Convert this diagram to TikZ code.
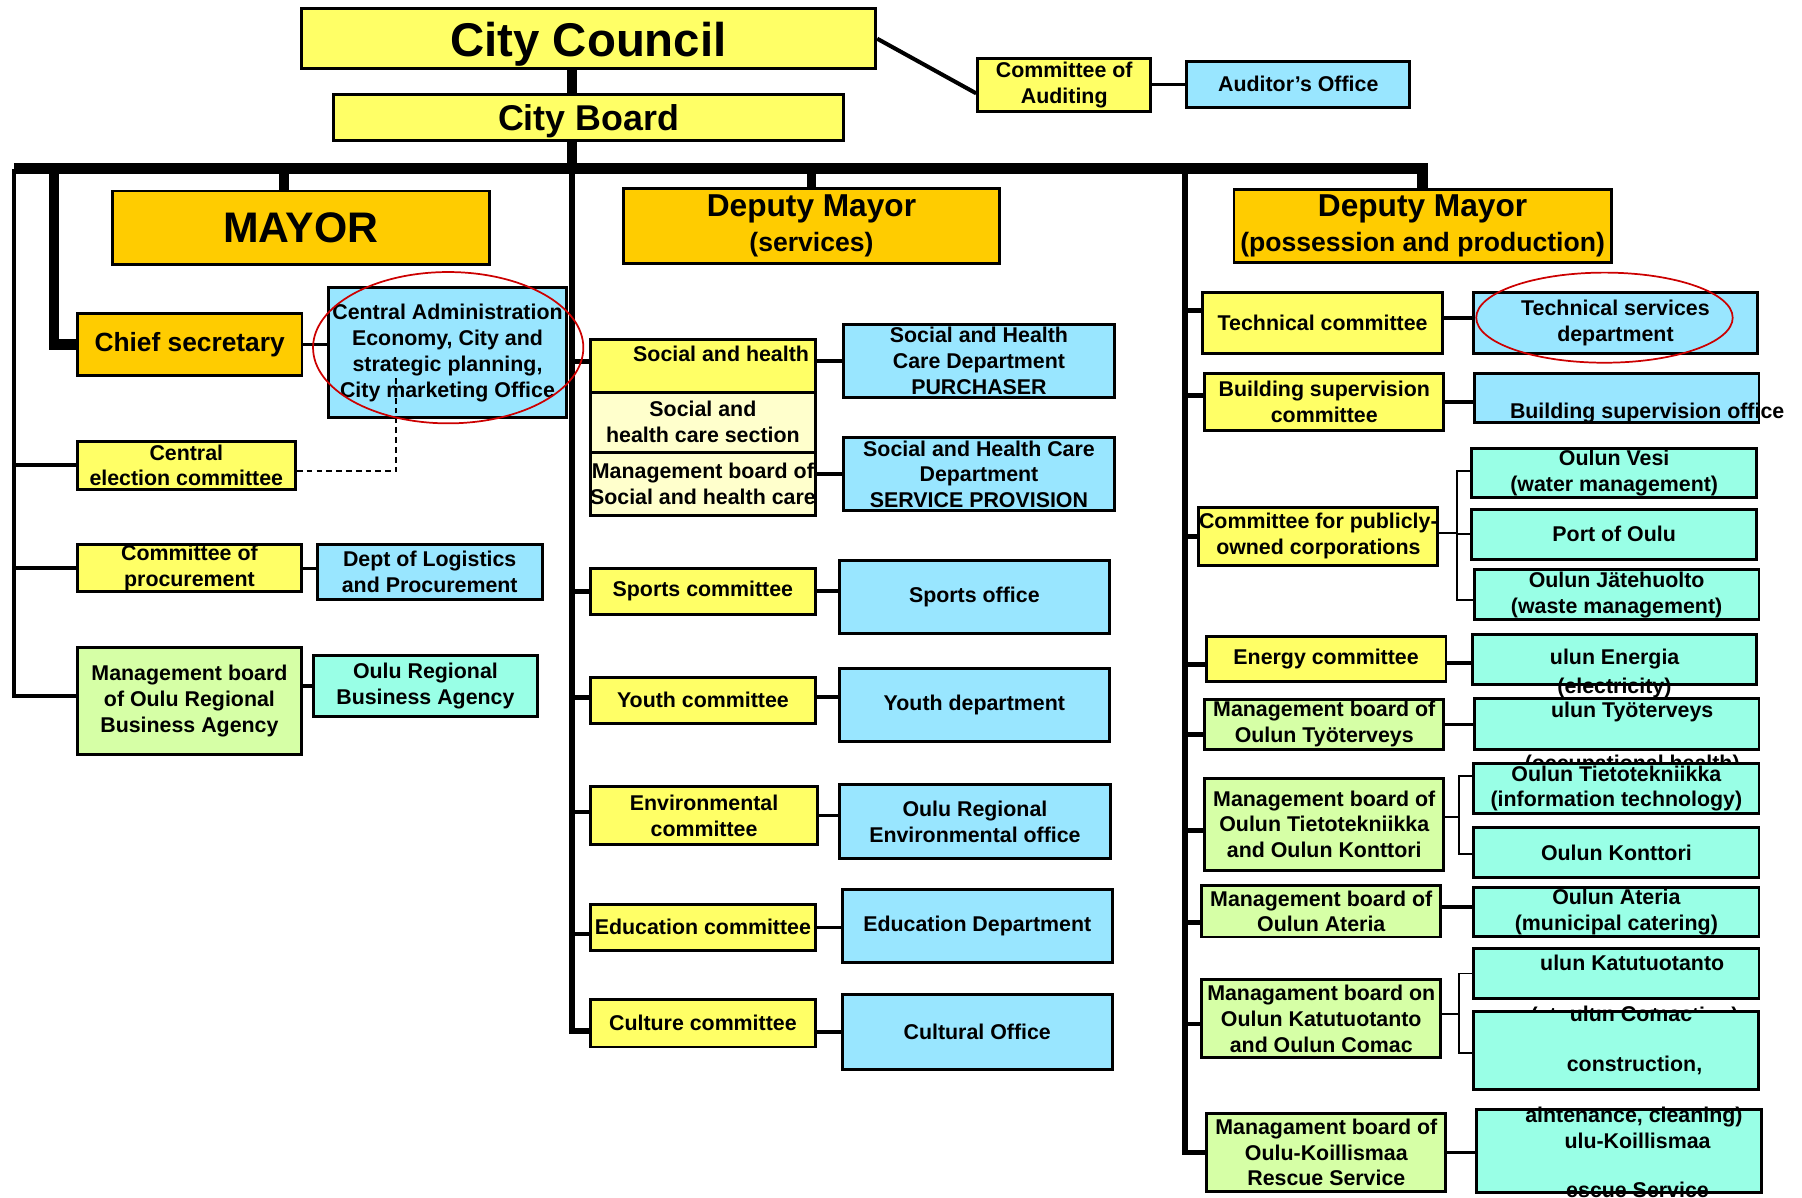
\documentclass[tikz,border=0pt]{standalone}
\usepackage{fontspec}
\setmainfont{Liberation Sans}

\definecolor{cyellow}{HTML}{FFFF66}
\definecolor{corange}{HTML}{FFCC00}
\definecolor{cblue}{HTML}{99E6FF}
\definecolor{cpale}{HTML}{FFFFCC}
\definecolor{cgreen}{HTML}{D6FFA6}
\definecolor{cmint}{HTML}{99FFE6}
\definecolor{cring}{HTML}{CC0000}

\tikzset{
  orgbox/.style={draw=black, line width=2.5pt, inner sep=0pt, align=center,
    font=\bfseries\fontsize{18.5}{22.3}\selectfont},
  sz/.style 2 args={minimum width=#1pt, minimum height=#2pt},
  yellowbox/.style={orgbox, fill=cyellow},
  orangebox/.style={orgbox, fill=corange},
  bluebox/.style={orgbox, fill=cblue},
  palebox/.style={orgbox, fill=cpale},
  greenbox/.style={orgbox, fill=cgreen},
  mintbox/.style={orgbox, fill=cmint},
  txt/.style={inner sep=0pt, align=center, font=\bfseries\fontsize{18.5}{22.3}\selectfont},
  bus/.style={line width=9pt},
  trunk/.style={line width=8.5pt},
  spine/.style={line width=5pt},
  stub/.style={line width=4pt},
  link/.style={line width=3pt},
  fork/.style={line width=1.5pt},
  dashline/.style={line width=1.5pt, dash pattern=on 5pt off 3.5pt},
  ring/.style={draw=cring, line width=1.5pt},
}

\begin{document}
\begin{tikzpicture}[x=1pt, y=-1pt]
  \fill[white] (0,0) rectangle (1560,1036.3);
  \useasboundingbox (0,0) rectangle (1560,1036.3);

  % Council, board, auditing
  \node[yellowbox, sz={497.5}{51.7}, font=\bfseries\fontsize{41}{45}\selectfont,
        text height=39.6pt, text depth=8.6pt] (council) at (509.4,33.5) {City Council};
  \node[yellowbox, sz={441.8}{39.9}, font=\bfseries\fontsize{31}{34}\selectfont,
        text height=29.9pt, text depth=6.5pt] (board) at (509.5,101.5) {City Board};
  \node[yellowbox, sz={150}{45.9}] (audit) at (921.3,73.8) {Committee of\\Auditing};
  \node[bluebox, sz={193.2}{39.5}] (auditor) at (1123.9,73) {Auditor’s Office};

  % Mayor and deputies
  \node[orangebox, sz={326.2}{63.8}, font=\bfseries\fontsize{37}{40}\selectfont] (mayor) at (260.3,197.2) {MAYOR};
  \node[orangebox, sz={325.8}{64.7}, font=\bfseries\fontsize{27.4}{30}\selectfont] (dep1) at (702.5,195.8)
    {Deputy Mayor\\\fontsize{23}{30}\selectfont (services)};
  \node[orangebox, sz={326.5}{63.1}, font=\bfseries\fontsize{27.4}{30}\selectfont] (dep2) at (1231.5,195.8)
    {Deputy Mayor\\\fontsize{23}{30}\selectfont (possession and production)};

  % Mayor's column
  \node[orangebox, sz={194.4}{53.1}, font=\bfseries\fontsize{22.8}{26}\selectfont] (chief) at (164.2,298.2) {Chief secretary};
  \node[bluebox, sz={206.7}{112.5}] (admin) at (387.4,305.5)
    {Central Administration\\Economy, City and\\strategic planning,\\City marketing Office};
  \node[yellowbox, sz={188.9}{41.3}] (election) at (161.3,402.9) {Central\\election committee};
  \node[yellowbox, sz={194.3}{40.8}] (procure) at (164,492) {Committee of\\procurement};
  \node[bluebox, sz={194.6}{47.1}] (logistics) at (372,495.2) {Dept of Logistics\\and Procurement};
  \node[greenbox, sz={194.3}{92.7}] (orbamgmt) at (164,606.9) {Management board\\of Oulu Regional\\Business Agency};
  \node[mintbox, sz={194}{52.9}] (orba) at (368.3,593.7) {Oulu Regional\\Business Agency};
  \coordinate (dashend) at (343,325);

  % Services column
  \node[yellowbox, sz={194.5}{45.5}] (soc) at (608.5,316.75) {};
  \node[txt, anchor=east] (soc-t) at (700.5,306.5) {Social and health};
  \node[palebox, sz={194.5}{52}] (sect) at (608.5,365.5) {Social and\\health care section};
  \node[palebox, sz={194.5}{55}] (smgmt) at (608.5,419) {Management board of\\Social and health care};
  \node[bluebox, sz={234.5}{63.6}] (purch) at (847.5,312.5) {Social and Health\\Care Department\\PURCHASER};
  \node[bluebox, sz={234.5}{63.4}] (prov) at (847.5,410.5) {Social and Health Care\\Department\\SERVICE PROVISION};
  \node[yellowbox, sz={194.5}{39.9}] (sports) at (608.5,511.8) {Sports committee};
  \node[bluebox, sz={233.5}{63.3}] (sportsoff) at (843.5,517) {Sports office};
  \node[yellowbox, sz={194.5}{39.9}] (youth) at (608.5,606.2) {Youth committee};
  \node[bluebox, sz={233.5}{63.5}] (youthdep) at (843.5,610.5) {Youth department};
  \node[yellowbox, sz={196.5}{50.3}] (env) at (609.5,706.1) {Environmental\\committee};
  \node[bluebox, sz={234.5}{64.1}] (envoff) at (844,711.3) {Oulu Regional\\Environmental office};
  \node[yellowbox, sz={194.5}{40}] (edu) at (608.5,802.7) {Education committee};
  \node[bluebox, sz={233.5}{63.6}] (edudep) at (846,801.5) {Education Department};
  \node[yellowbox, sz={194.5}{41.1}] (cult) at (608.5,885.8) {Culture committee};
  \node[bluebox, sz={233.5}{64.5}] (cultoff) at (846,893.5) {Cultural Office};

  % Possession and production column
  \node[yellowbox, sz={207.5}{52.8}] (tech) at (1145,279.4) {Technical committee};
  \node[bluebox, sz={246.5}{52.8}] (tsd) at (1398.5,279.4) {Technical services\\department};
  \node[yellowbox, sz={206.8}{49.7}] (bsc) at (1146.4,347.9) {Building supervision\\committee};
  \node[bluebox, sz={246.5}{42.5}] (bso) at (1399.5,344.5) {};
  \node[txt, anchor=west] (bso-t) at (1307,357.3) {Building supervision office};
  \node[yellowbox, sz={206.9}{50.1}] (pub) at (1141.3,464.3) {Committee for publicly-\\owned corporations};
  \node[mintbox, sz={246.8}{42.8}] (vesi) at (1397.4,409.4) {Oulun Vesi\\(water management)};
  \node[mintbox, sz={246.8}{43.4}] (port) at (1397.4,462.5) {Port of Oulu};
  \node[mintbox, sz={246.5}{43.3}] (jate) at (1399.5,514.8) {Oulun Jätehuolto\\(waste management)};
  \node[yellowbox, sz={207.5}{39.3}] (energy) at (1148,570.7) {Energy committee};
  \node[mintbox, sz={245.9}{43.4}] (enel) at (1397.8,570.8) {};
  \node[txt] (enel-a) at (1397.8,570.6) {ulun Energia};
  \node[txt] (enel-b) at (1397.6,596) {(electricity)};
  \node[greenbox, sz={206.8}{43.5}] (tyomgmt) at (1146.4,627) {Management board of\\Oulun Työterveys};
  \node[mintbox, sz={246.5}{43.8}] (tyo) at (1399.5,626.9) {};
  \node[txt] (tyo-a) at (1413,616) {ulun Työterveys};
  \node[txt] (tyo-b) at (1413,662.5) {(occupational health)};
  \node[greenbox, sz={206.8}{79.8}] (tietomgmt) at (1146.4,713.6)
    {Management board of\\Oulun Tietotekniikka\\and Oulun Konttori};
  \node[mintbox, sz={246.9}{43.6}] (tieto) at (1399.3,682.6) {Oulun Tietotekniikka\\(information technology)};
  \node[mintbox, sz={246.9}{43.5}] (kont) at (1399.3,738) {Oulun Konttori};
  \node[greenbox, sz={207.1}{44.3}] (atmgmt) at (1143.8,789) {Management board of\\Oulun Ateria};
  \node[mintbox, sz={246.9}{42.7}] (ateria) at (1399.3,789.4) {Oulun Ateria\\(municipal catering)};
  \node[greenbox, sz={207.1}{67.7}] (katmgmt) at (1143.8,881.9)
    {Managament board on\\Oulun Katutuotanto\\and Oulun Comac};
  \node[mintbox, sz={246.9}{43.9}] (katu) at (1399.3,842.8) {};
  \node[txt] (katu-a) at (1413,833.5) {ulun Katutuotanto};
  \node[txt] (katu-b) at (1415,880) {(street construction)};
  \node[mintbox, sz={247}{67.6}] (comac) at (1398.8,909.6) {};
  \node[txt] (comac-a) at (1412,878) {ulun Comac};
  \node[txt] (comac-b) at (1415,922) {construction,};
  \node[greenbox, sz={207}{67.4}] (koilmgmt) at (1148.2,997.7)
    {Managament board of\\Oulu-Koillismaa\\Rescue Service};
  \node[mintbox, sz={247}{71.8}] (koil) at (1401.8,996.7) {};
  \node[txt] (comac-c) at (1414.5,967) {aintenance, cleaning)};
  \node[txt] (koil-a) at (1417.6,987.3) {ulu-Koillismaa};
  \node[txt] (koil-b) at (1417.6,1030) {escue Service};

  % Main lines
  \coordinate (busL) at (12,146);
  \coordinate (midx) at (495,146);
  \coordinate (rightx) at (1026,146);
  \coordinate (mayorx) at (246,146);
  \coordinate (chiefx) at (46.5,146);
  \draw[trunk] (council.south -| midx) -- (board.north -| midx);
  \draw[trunk] (board.south -| midx) -- (midx);
  \draw[bus] (busL) -| (dep2.north);
  \draw[trunk] (mayor.north -| mayorx) -- (mayorx);
  \draw[trunk] (dep1.north) -- (dep1.north |- busL);
  \draw[bus] (chief.west) -| (chiefx);
  \draw[link, line width=3.5pt] (council.east) -- ([yshift=-7pt]audit.west);
  \draw[link] (audit.east |- auditor.west) -- (auditor.west);

  % Mayor's lines
  \draw[link, line width=3.5pt] ([yshift=4.4pt]orbamgmt.west) -| (busL);
  \draw[link, line width=3.5pt] (election.west) -- (election.west -| busL);
  \draw[link, line width=3.5pt] (procure.west) -- (procure.west -| busL);
  \draw[link] (chief.east) -- (chief.east -| admin.west);
  \draw[link] (procure.east) -- (procure.east -| logistics.west);
  \draw[link] (orba.west -| orbamgmt.east) -- (orba.west);
  \draw[dashline] ([yshift=-5pt]election.east) -| (dashend);

  % Services lines
  \draw[spine] (midx) |- ([yshift=-7pt]cult.west);
  \draw[stub] ([yshift=4pt]soc.west) -- ([yshift=4pt]soc.west -| midx);
  \draw[stub] (sports.west) -- (sports.west -| midx);
  \draw[stub] ([yshift=2.6pt]youth.west) -- ([yshift=2.6pt]youth.west -| midx);
  \draw[stub] ([yshift=3.3pt]env.west) -- ([yshift=3.3pt]env.west -| midx);
  \draw[stub] ([yshift=-6pt]edu.west) -- ([yshift=-6pt]edu.west -| midx);
  \draw[link] (soc.east |- purch.west) -- (purch.west);
  \draw[link] (smgmt.east |- prov.west) -- (prov.west);
  \draw[link] (sports.east) -- (sports.east -| sportsoff.west);
  \draw[link] ([yshift=3pt]youth.east) -- ([yshift=3pt]youth.east -| youthdep.west);
  \draw[link] (env.east) -- (env.east -| envoff.west);
  \draw[link] (edu.east) -- (edu.east -| edudep.west);
  \draw[link] (cult.east |- cultoff.west) -- (cultoff.west);

  % Possession and production lines
  \draw[spine] (rightx) |- (koilmgmt.west);
  \draw[stub] ([yshift=10.4pt]tech.west) -- ([yshift=10.4pt]tech.west -| rightx);
  \draw[stub] ([yshift=5.4pt]bsc.west) -- ([yshift=5.4pt]bsc.west -| rightx);
  \draw[stub] (pub.west) -- (pub.west -| rightx);
  \draw[stub] ([yshift=-4.3pt]energy.west) -- ([yshift=-4.3pt]energy.west -| rightx);
  \draw[stub] ([yshift=-8.6pt]tyomgmt.west) -- ([yshift=-8.6pt]tyomgmt.west -| rightx);
  \draw[stub] ([yshift=-5.1pt]tietomgmt.west) -- ([yshift=-5.1pt]tietomgmt.west -| rightx);
  \draw[stub] ([yshift=-9.8pt]atmgmt.west) -- ([yshift=-9.8pt]atmgmt.west -| rightx);
  \draw[stub] ([yshift=-4.6pt]katmgmt.west) -- ([yshift=-4.6pt]katmgmt.west -| rightx);
  \draw[link] ([yshift=4pt]tech.east) -- ([yshift=4pt]tech.east -| tsd.west);
  \draw[link] (bsc.east) -- (bsc.east -| bso.west);
  \draw[link] ([yshift=-3.3pt]energy.east) -- ([yshift=-3.3pt]energy.east -| enel.west);
  \draw[link] (tyomgmt.east) -- (tyomgmt.east -| tyo.west);
  \draw[link] ([yshift=4pt]atmgmt.east) -- ([yshift=4pt]atmgmt.east -| ateria.west);
  \draw[link] (koilmgmt.east) -- (koilmgmt.east -| koil.west);

  % Forks to the companies
  \coordinate (forkA) at (1261.4,461.6);
  \coordinate (forkB) at (1263,707);
  \coordinate (forkC) at (1263,878);
  \draw[fork] ([yshift=2.7pt]pub.east) -- (forkA);
  \draw[fork] ([yshift=1.4pt]vesi.west) -| (forkA) |- ([yshift=-4.7pt]jate.west);
  \draw[fork] (forkA |- port.west) -- (port.west);
  \draw[fork] ([yshift=6.6pt]tietomgmt.east) -- (forkB);
  \draw[fork] ([yshift=10.6pt]tieto.west) -| (forkB) |- ([yshift=-1.4pt]kont.west);
  \draw[fork] ([yshift=3.9pt]katmgmt.east) -- (forkC);
  \draw[fork] (katu.west) -| (forkC) |- ([yshift=-1.8pt]comac.west);

  % Red rings
  \draw[ring] ([xshift=0.6pt,yshift=4.5pt]admin.center) ellipse [x radius=117pt, y radius=65.5pt];
  \draw[ring] ([xshift=-9.5pt,yshift=4.4pt]tsd.center) ellipse [x radius=111pt, y radius=39pt];
\end{tikzpicture}
\end{document}
